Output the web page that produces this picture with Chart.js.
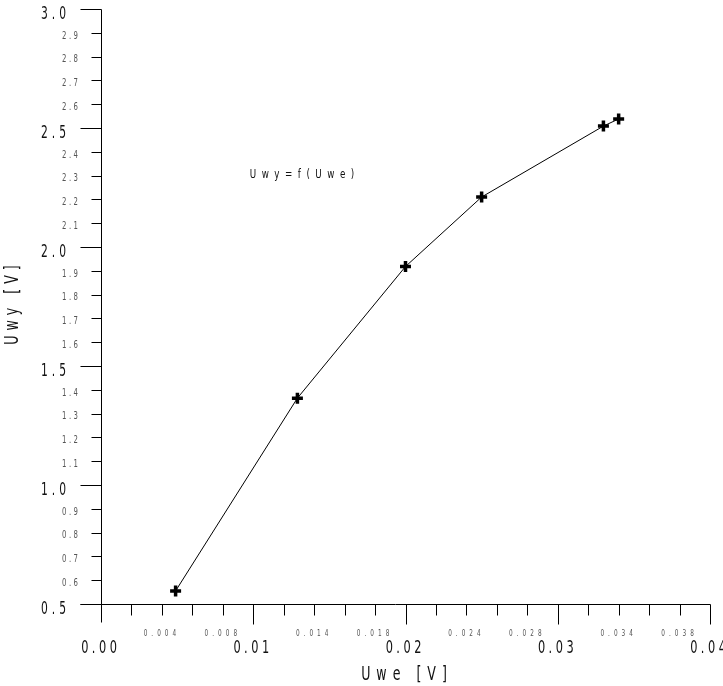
<!DOCTYPE html>
<html>
<head>
<meta charset="utf-8">
<script src="https://cdn.jsdelivr.net/npm/chart.js@4"></script>
<style>
    html, body { margin: 0; padding: 0; background: #fff; }
    #wrap { width: 723px; height: 686px; position: relative; }
</style>
</head>
<body>
<div id="wrap"><canvas id="chart"></canvas></div>
<script>
// dane pomiarowe
const uwe = [0.0049, 0.0129, 0.0200, 0.0250, 0.0330, 0.0340];
const uwy = [0.555, 1.365, 1.918, 2.21, 2.508, 2.538];

// osie
const yMajorTicks = [0.5, 1.0, 1.5, 2.0, 2.5, 3.0];
const yMajorLabels = ['0.5', '1.0', '1.5', '2.0', '2.5', '3.0'];
const yMinorTicks = [0.6, 0.7, 0.8, 0.9, 1.1, 1.2, 1.3, 1.4, 1.6, 1.7, 1.8, 1.9,
                     2.1, 2.2, 2.3, 2.4, 2.6, 2.7, 2.8, 2.9];
const yMinorLabels = ['0.6', '0.7', '0.8', '0.9', '1.1', '1.2', '1.3', '1.4', '1.6', '1.7', '1.8', '1.9',
                      '2.1', '2.2', '2.3', '2.4', '2.6', '2.7', '2.8', '2.9'];
const xMajorTicks = [0, 0.01, 0.02, 0.03, 0.04];
const xMajorLabels = ['0.00', '0.01', '0.02', '0.03', '0.04'];
const xMinorTicks = [0.002, 0.004, 0.006, 0.008, 0.012, 0.014, 0.016, 0.018,
                     0.022, 0.024, 0.026, 0.028, 0.032, 0.034, 0.036, 0.038];
const xMinorLabelTicks = [0.004, 0.008, 0.014, 0.018, 0.024, 0.028, 0.034, 0.038];
const xMinorLabels = ['0.004', '0.008', '0.014', '0.018', '0.024', '0.028', '0.034', '0.038'];

const xTitle = 'Uwe [V]';
const yTitle = 'Uwy [V]';
const note = 'Uwy=f(Uwe)';

const FONT = '"Liberation Sans Narrow", "DejaVu Sans Condensed", "Liberation Sans", sans-serif';

// tekst z rozstrzelonymi znakami
function spaced(ctx, str, x, y, size, gap, sx, align) {
    ctx.font = size + 'px ' + FONT;
    ctx.textBaseline = 'middle';
    ctx.textAlign = 'left';
    const chars = [...str];
    const widths = chars.map(c => ctx.measureText(c).width * sx);
    const total = widths.reduce((a, b) => a + b, 0) + gap * (chars.length - 1);
    let pos = align === 'right' ? x - total : (align === 'center' ? x - total / 2 : x);
    chars.forEach((c, i) => {
        ctx.save();
        ctx.translate(pos, y);
        ctx.scale(sx, 1);
        ctx.fillText(c, 0, 0);
        ctx.restore();
        pos += widths[i] + gap;
    });
}

const axesPlugin = {
    id: 'axesPlugin',
    afterDraw(chart) {
        const ctx = chart.ctx;
        const xs = chart.scales.x;
        const ys = chart.scales.y;
        const x0 = Math.round(xs.getPixelForValue(0)) + 0.5;
        const y0 = Math.round(ys.getPixelForValue(0.5)) + 0.5;
        const yTop = Math.round(ys.getPixelForValue(3.0)) + 0.5;
        const xEnd = Math.round(xs.getPixelForValue(0.04)) + 0.5;

        ctx.save();
        ctx.strokeStyle = '#000';
        ctx.fillStyle = '#000';
        ctx.lineWidth = 1;
        ctx.beginPath();
        // oś Y
        ctx.moveTo(x0, yTop);
        ctx.lineTo(x0, y0 + 18);
        // oś X
        ctx.moveTo(x0 - 21, y0);
        ctx.lineTo(xEnd, y0);
        // podziałki Y
        yMajorTicks.forEach(v => {
            const p = Math.round(ys.getPixelForValue(v)) + 0.5;
            ctx.moveTo(x0 - 21, p);
            ctx.lineTo(x0, p);
        });
        yMinorTicks.forEach(v => {
            const p = Math.round(ys.getPixelForValue(v)) + 0.5;
            ctx.moveTo(x0 - 10, p);
            ctx.lineTo(x0, p);
        });
        // podziałki X
        xMajorTicks.slice(1).forEach(v => {
            const p = Math.round(xs.getPixelForValue(v)) + 0.5;
            ctx.moveTo(p, y0);
            ctx.lineTo(p, y0 + 20);
        });
        xMinorTicks.forEach(v => {
            const p = Math.round(xs.getPixelForValue(v)) + 0.5;
            ctx.moveTo(p, y0);
            ctx.lineTo(p, y0 + 11);
        });
        ctx.stroke();

        // etykiety Y
        ctx.fillStyle = '#111';
        yMajorTicks.forEach((v, i) => {
            spaced(ctx, yMajorLabels[i], 66, ys.getPixelForValue(v) + 6, 17, 4, 0.7, 'right');
        });
        ctx.fillStyle = '#555';
        yMinorTicks.forEach((v, i) => {
            spaced(ctx, yMinorLabels[i], 78, ys.getPixelForValue(v) + 3, 11, 2.5, 0.7, 'right');
        });
        // etykiety X
        ctx.fillStyle = '#111';
        xMajorTicks.forEach((v, i) => {
            spaced(ctx, xMajorLabels[i], xs.getPixelForValue(v) - 2, 648, 18, 3.5, 0.7, 'center');
        });
        ctx.fillStyle = '#555';
        xMinorLabelTicks.forEach((v, i) => {
            spaced(ctx, xMinorLabels[i], xs.getPixelForValue(v) - 2, 633.5, 8, 4, 0.8, 'center');
        });

        // tytuły osi
        ctx.fillStyle = '#111';
        spaced(ctx, xTitle, 404, 675, 20, 6, 0.7, 'center');
        ctx.save();
        ctx.translate(13, 305);
        ctx.rotate(-Math.PI / 2);
        spaced(ctx, yTitle, 0, 0, 20, 5, 0.7, 'center');
        ctx.restore();

        // opis funkcji
        spaced(ctx, note, 302, 175, 13, 5.5, 0.75, 'center');
        ctx.restore();
    }
};

new Chart(document.getElementById('chart').getContext('2d'), {
    type: 'scatter',
    data: {
        datasets: [{
            data: uwe.map((x, i) => ({ x: x, y: uwy[i] })),
            showLine: true,
            borderColor: '#000',
            borderWidth: 1,
            pointStyle: 'cross',
            pointRadius: 5.5,
            pointBorderWidth: 3.5,
            pointBackgroundColor: '#000',
            pointBorderColor: '#000',
            clip: false
        }]
    },
    options: {
        responsive: true,
        maintainAspectRatio: false,
        animation: false,
        layout: { padding: { left: 101, right: 13, top: 5, bottom: 82 } },
        plugins: { legend: { display: false }, tooltip: { enabled: false } },
        scales: {
            x: { type: 'linear', min: 0, max: 0.04, display: false },
            y: { type: 'linear', min: 0.5, max: 3.0, display: false }
        }
    },
    plugins: [axesPlugin]
});
</script>
</body>
</html>
